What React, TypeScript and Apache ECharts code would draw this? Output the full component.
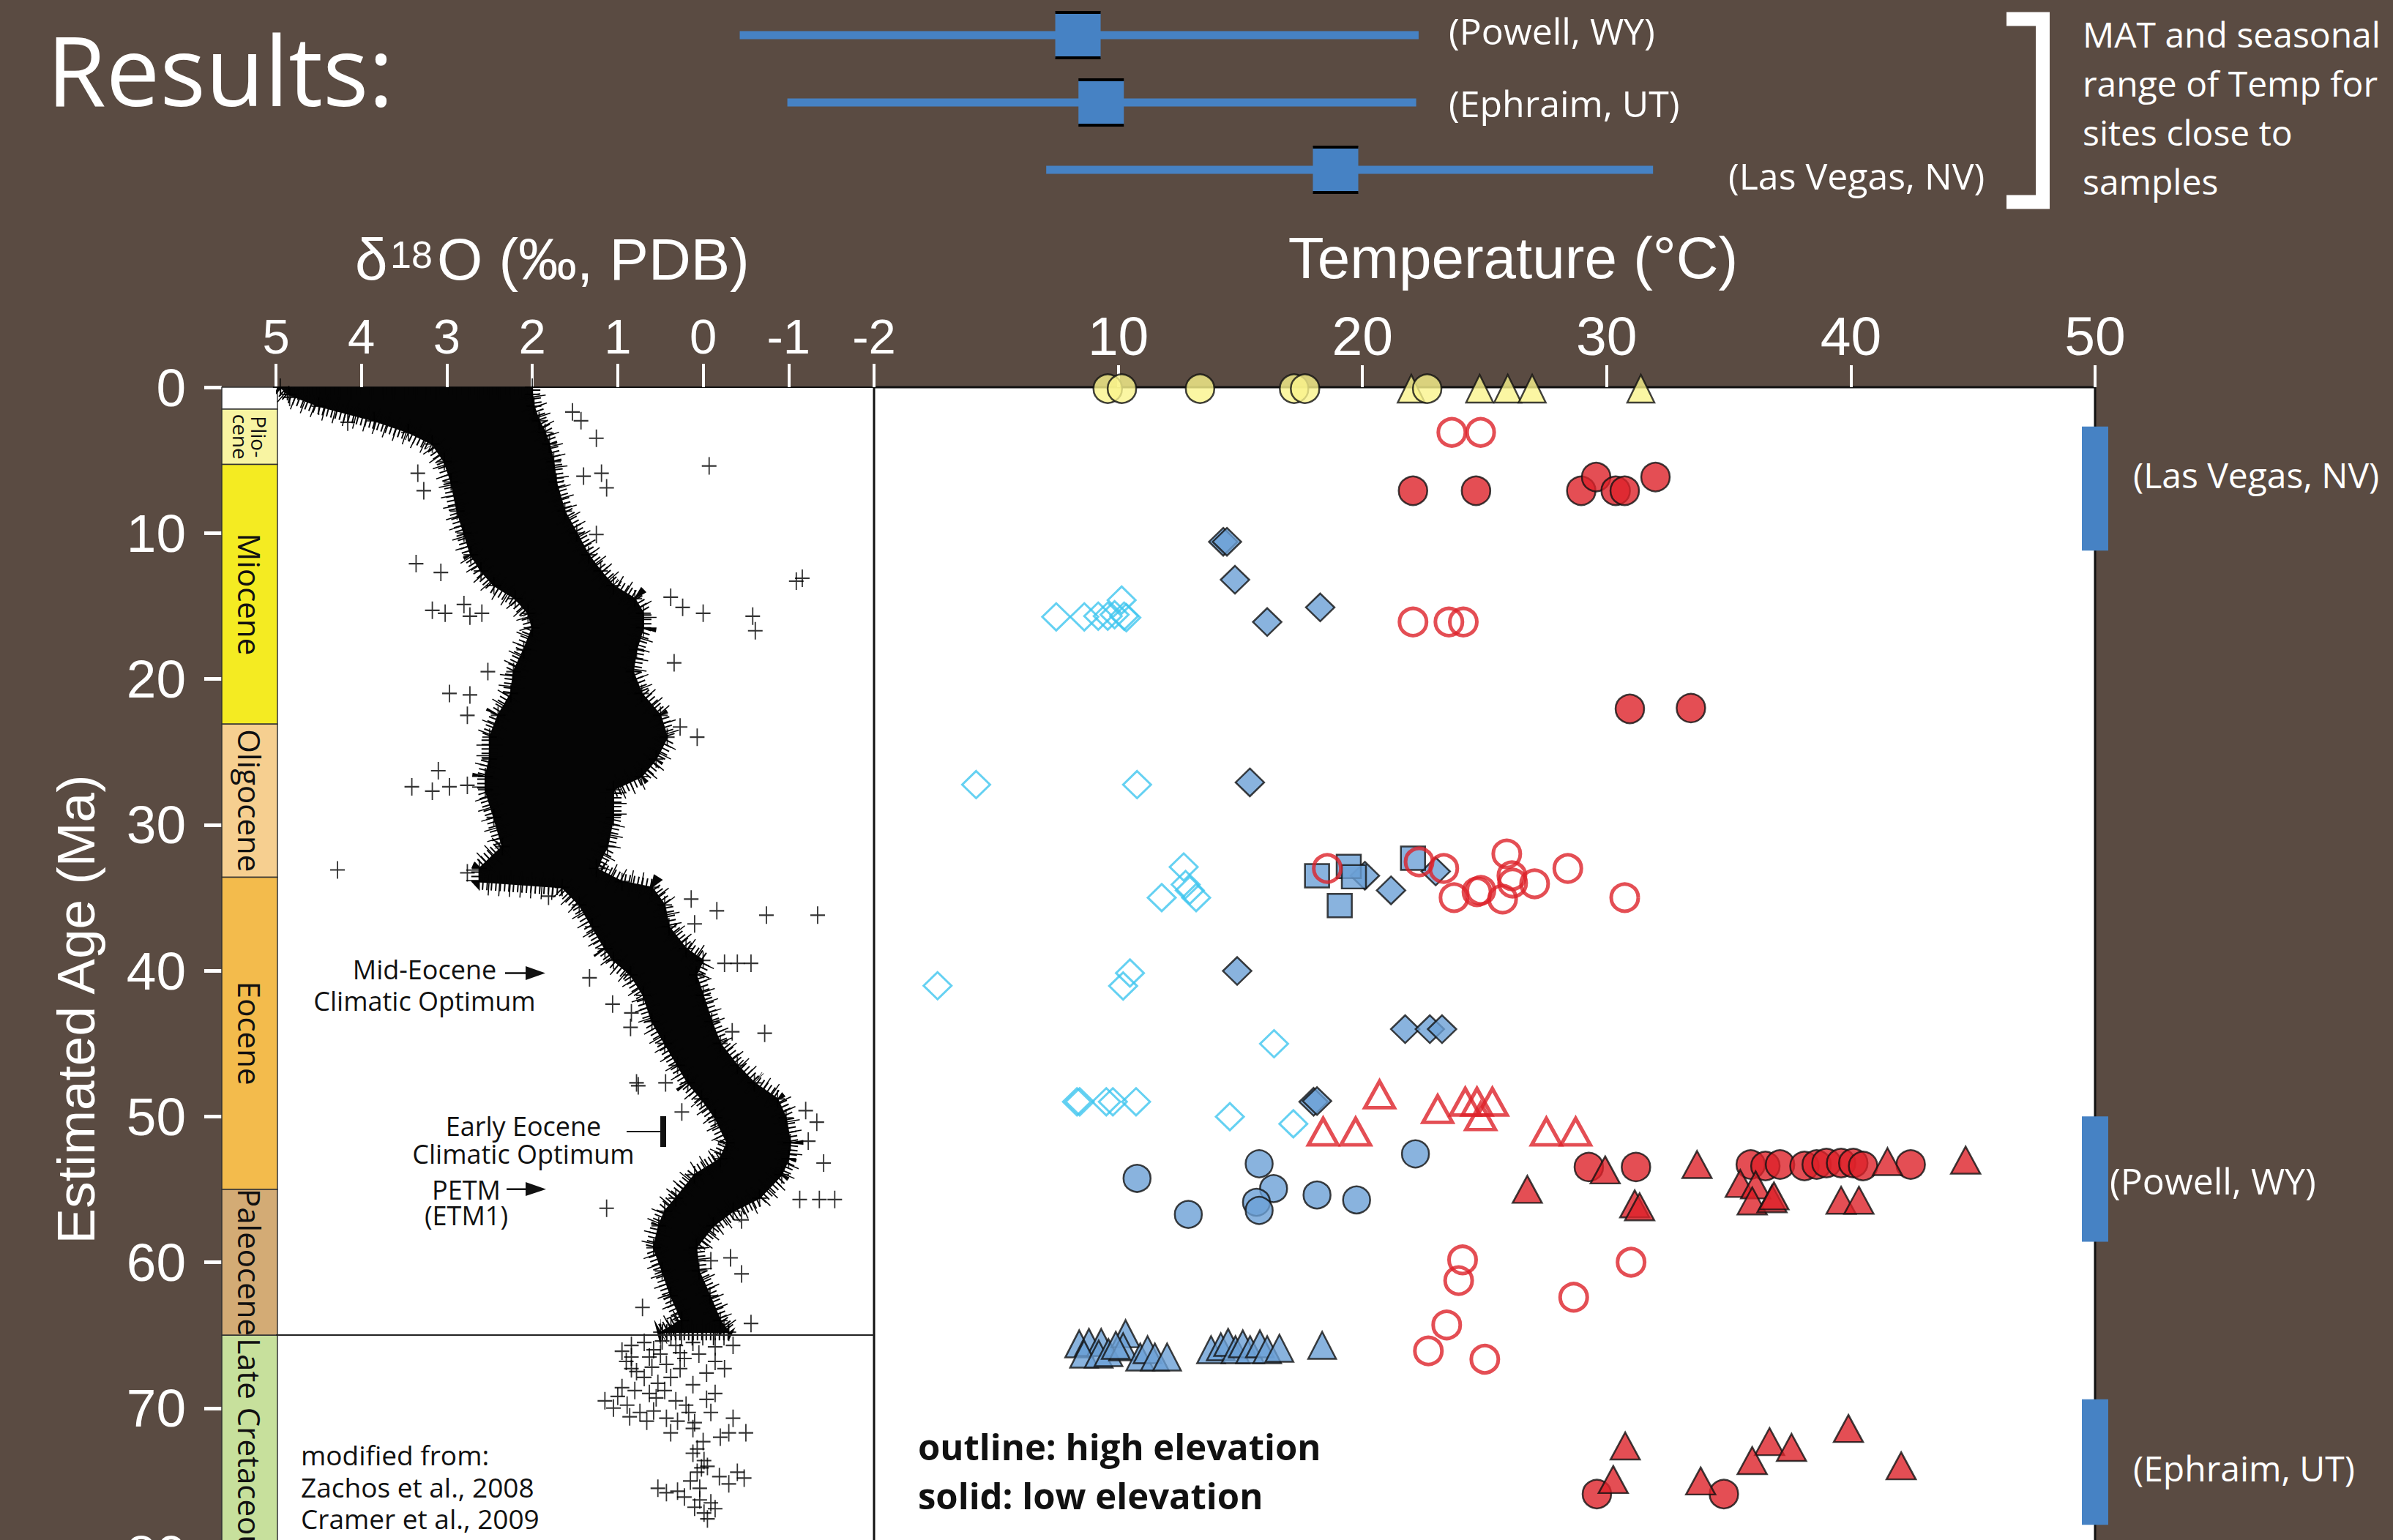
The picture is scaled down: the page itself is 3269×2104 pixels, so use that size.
import React, { useEffect, useRef } from "react";
import * as echarts from "echarts";

// ---------------- data ----------------
const AGE_MIN = 0;
const AGE_MAX = 80;
const D18O_MIN = -2;
const D18O_MAX = 5;
const TEMP_MIN = 0;
const TEMP_MAX = 50;
const TEMP_TICKS = [10, 20, 30, 40, 50];

const EPOCH_NAMES = ["", "Plio-\ncene", "Miocene", "Oligocene", "Eocene", "Paleocene", "Late Cretaceous"];
const EPOCH_START = [0, 1.5, 5.3, 23.1, 33.6, 55.0, 65.0];
const EPOCH_END = [1.5, 5.3, 23.1, 33.6, 55.0, 65.0, 80];
const KPG_BOUNDARY = 65.0;

// dense benthic d18O cloud (Zachos/Cramer), edges
const BAND_AGE = [0, 0.5, 1.3, 2.3, 3.1, 3.9, 5.1, 6.5, 8.5, 10.0, 11.5, 12.6, 13.6, 14.5, 15.5, 16.5, 18.0, 19.5, 21.0, 22.5, 24.0, 25.5, 26.7, 27.6, 29.5, 31.5, 33.0, 33.9, 34.3, 35.5, 37.0, 38.5, 39.3, 40.3, 41.7, 43.5, 45.0, 46.5, 47.7, 48.8, 50.1, 51.8, 52.9, 54.0, 55.6, 56.5, 57.5, 59.0, 60.6, 62.3, 64.0, 64.8];
const BAND_LEFT = [4.95, 4.85, 4.5, 3.85, 3.45, 3.17, 3.03, 2.95, 2.88, 2.8, 2.72, 2.6, 2.45, 2.2, 2.05, 2.0, 2.1, 2.22, 2.25, 2.4, 2.5, 2.5, 2.55, 2.55, 2.45, 2.35, 2.62, 2.62, 1.65, 1.45, 1.3, 1.15, 1.05, 0.85, 0.7, 0.6, 0.45, 0.3, 0.18, 0.02, -0.14, -0.28, -0.2, 0.1, 0.32, 0.45, 0.52, 0.58, 0.48, 0.38, 0.25, 0.5];
const BAND_RIGHT = [2.0, 2.0, 1.98, 1.92, 1.85, 1.8, 1.75, 1.72, 1.62, 1.48, 1.34, 1.2, 1.05, 0.8, 0.7, 0.7, 0.78, 0.82, 0.72, 0.5, 0.42, 0.55, 0.72, 1.05, 1.05, 1.12, 1.25, 0.95, 0.6, 0.45, 0.4, 0.2, 0.0, 0.08, 0.0, -0.1, -0.2, -0.4, -0.6, -0.87, -0.97, -1.02, -1.0, -0.92, -0.66, -0.35, -0.12, 0.08, 0.05, -0.08, -0.2, -0.3];

// scattered d18O measurements [d18O, age]
const D18O_OUTLIERS = [[4.84, 0.7], [4.16, 2.4], [1.53, 1.7], [1.43, 2.3], [1.25, 3.5], [-0.07, 5.4], [1.19, 5.9], [1.13, 6.9], [1.4, 6.1], [3.34, 5.9], [3.27, 7.1], [1.25, 10.1], [3.36, 12.1], [3.07, 12.7], [-1.16, 13.1], [-1.09, 13.3], [-0.58, 15.7], [-0.61, 16.7], [0.0, 15.5], [0.24, 15.1], [0.38, 14.4], [3.17, 15.3], [3.02, 15.5], [2.73, 15.7], [2.59, 15.5], [2.8, 14.9], [0.34, 18.9], [2.52, 19.5], [2.97, 21.0], [2.73, 21.1], [2.76, 22.5], [0.27, 23.3], [0.07, 24.0], [3.41, 27.4], [3.17, 27.7], [2.97, 27.4], [3.1, 26.3], [2.76, 27.3], [4.28, 33.1], [2.76, 33.3], [1.81, 34.9], [0.14, 35.1], [-0.16, 35.9], [-0.74, 36.2], [-1.34, 36.2], [0.1, 36.8], [1.33, 40.5], [1.06, 42.3], [0.84, 42.9], [0.85, 43.9], [-0.72, 44.3], [-0.34, 44.2], [0.78, 47.7], [0.44, 47.7], [0.76, 47.9], [0.25, 49.7], [-1.2, 49.6], [-1.33, 50.4], [-1.41, 53.2], [-1.23, 51.7], [1.13, 56.3], [-0.45, 57.1], [-0.09, 59.9], [-0.32, 59.7], [-0.45, 60.8], [0.71, 63.1], [-0.56, 64.2], [-1.54, 55.7], [-1.36, 55.7], [-1.13, 55.7], [-0.56, 39.5], [-0.4, 39.5], [-0.25, 39.5]];
const D18O_CRETACEOUS = [[0.95, 66.1], [0.84, 65.7], [0.69, 65.5], [0.48, 65.4], [0.32, 65.7], [0.12, 65.5], [-0.14, 65.8], [-0.35, 65.7], [0.63, 66.5], [0.43, 67.0], [0.22, 66.6], [-0.04, 67.6], [-0.25, 67.3], [0.84, 67.3], [0.69, 67.9], [0.53, 68.3], [0.38, 67.9], [0.12, 68.4], [-0.14, 69.0], [-0.04, 69.4], [1.15, 69.5], [1.05, 70.0], [0.89, 69.8], [0.74, 70.3], [0.58, 70.2], [0.43, 70.7], [0.63, 69.0], [0.32, 69.5], [0.17, 70.3], [-0.09, 70.3], [-0.35, 70.7], [-0.5, 71.7], [-0.3, 71.7], [0.38, 71.7], [0.12, 71.4], [0.07, 72.8], [-0.01, 73.6], [0.07, 74.4], [-0.19, 74.7], [-0.4, 74.4], [-0.48, 74.8], [0.53, 75.5], [0.43, 75.8], [0.22, 76.1], [0.04, 76.3], [-0.09, 76.5], [-0.01, 77.2], [-0.14, 76.9], [0.04, 75.5], [0.02, 74.1], [0.84, 66.5], [0.58, 66.0], [0.27, 66.2], [-0.14, 66.8], [0.9, 66.8], [0.78, 67.5], [0.6, 67.2], [0.5, 66.3], [0.27, 67.3], [0.05, 66.3], [0.95, 68.6], [0.8, 68.8], [0.55, 69.3], [0.45, 68.8], [0.2, 69.8], [1.0, 69.2], [0.86, 70.6], [0.66, 70.9], [0.3, 70.9], [0.1, 71.0], [-0.2, 72.0], [0.0, 72.3], [0.12, 73.1], [-0.05, 74.0], [0.15, 75.0], [-0.3, 75.2], [0.1, 76.8], [-0.05, 77.6], [0.3, 75.7]];

// clumped-isotope temperatures [T (°C), age (Ma)]
const MODERN_CIRCLES = [[9.57, 0.1], [10.15, 0.1], [13.35, 0.1], [17.2, 0.1], [17.65, 0.1], [22.65, 0.1]];
const MODERN_TRIANGLES = [[22.0, 0.1], [24.8, 0.1], [25.95, 0.1], [26.95, 0.1], [31.4, 0.1]];
const RED_OPEN_CIRCLES = [[23.66, 3.1], [24.84, 3.1], [22.07, 16.1], [23.54, 16.1], [24.13, 16.1], [18.56, 33.0], [22.32, 32.55], [23.33, 33.0], [25.91, 32.0], [23.75, 35.0], [24.69, 34.6], [24.85, 34.5], [25.74, 35.1], [26.12, 33.5], [26.15, 34.0], [27.05, 34.05], [28.41, 33.0], [30.74, 35.0], [24.1, 59.84], [23.94, 61.26], [31.0, 60.0], [28.65, 62.4], [23.45, 64.3], [22.7, 66.08], [25.01, 66.65]];
const RED_FILLED_CIRCLES = [[22.07, 7.1], [24.65, 7.1], [28.96, 7.1], [29.57, 6.16], [30.37, 7.1], [30.74, 7.1], [32.0, 6.16], [30.95, 22.06], [33.45, 22.0], [29.27, 53.47], [31.2, 53.47], [35.9, 53.3], [36.5, 53.4], [37.1, 53.3], [38.1, 53.4], [38.6, 53.3], [39.0, 53.2], [39.6, 53.2], [40.1, 53.2], [40.5, 53.4], [42.45, 53.3], [29.6, 75.9], [34.8, 75.9]];
const RED_FILLED_TRIANGLES = [[29.94, 53.67], [33.7, 53.3], [35.47, 54.6], [36.1, 54.7], [41.5, 53.1], [44.7, 53.0], [26.75, 55.0], [31.15, 56.0], [31.35, 56.2], [35.96, 55.8], [36.77, 55.65], [36.85, 55.45], [39.6, 55.75], [40.33, 55.75], [30.76, 72.6], [36.67, 72.3], [37.57, 72.7], [39.9, 71.4], [35.96, 73.6], [42.06, 73.96], [30.27, 74.9], [33.85, 75.0]];
const RED_OPEN_TRIANGLES = [[20.7, 48.5], [18.39, 51.05], [19.72, 51.05], [23.08, 49.5], [24.21, 49.0], [24.69, 49.0], [25.32, 49.0], [24.84, 50.0], [27.53, 51.05], [28.73, 51.05]];
const BLUE_DIAMONDS = [[14.3, 10.6], [14.45, 10.6], [14.78, 13.2], [16.1, 16.1], [18.27, 15.1], [15.39, 27.1], [20.1, 33.5], [21.17, 34.5], [23.0, 33.2], [14.87, 40.03], [21.75, 44.02], [22.76, 44.02], [23.26, 44.02], [18.0, 49.0], [18.14, 48.95]];
const CYAN_OPEN_DIAMONDS = [[7.46, 15.75], [8.61, 15.75], [9.18, 15.7], [9.57, 15.7], [9.85, 15.6], [10.14, 14.6], [10.24, 15.7], [10.33, 15.8], [4.18, 27.25], [10.77, 27.25], [12.68, 32.9], [12.76, 34.1], [12.93, 34.5], [11.78, 35.0], [13.19, 35.0], [2.6, 41.04], [10.48, 40.17], [10.2, 41.06], [16.38, 45.02], [8.31, 49.0], [8.42, 49.0], [9.51, 49.0], [9.78, 49.0], [10.73, 49.0], [14.57, 50.02], [17.17, 50.51]];
const BLUE_SQUARES = [[18.14, 33.5], [19.44, 32.86], [19.65, 33.57], [19.07, 35.55], [22.07, 32.3]];
const BLUE_CIRCLES = [[10.77, 54.25], [12.87, 56.72], [15.77, 53.25], [16.36, 54.95], [15.66, 55.89], [15.77, 56.45], [18.14, 55.39], [19.76, 55.73], [22.17, 52.57]];
const BLUE_TRIANGLES = [[8.4, 65.6], [8.8, 65.5], [9.3, 65.5], [8.6, 66.3], [9.2, 66.3], [9.6, 66.2], [10.3, 64.9], [10.2, 65.8], [10.9, 66.5], [11.2, 66.0], [11.5, 66.5], [12.0, 66.5], [9.9, 65.7], [13.8, 66.0], [14.2, 65.8], [14.5, 65.5], [14.8, 66.0], [15.1, 65.6], [15.4, 66.0], [15.8, 65.6], [16.1, 66.0], [16.6, 65.9], [18.35, 65.7]];

// sample age ranges of the three sites (right-hand bars)
const SITE_BAR_START = [2.7, 50.0, 69.4];
const SITE_BAR_END = [11.2, 58.6, 78.0];

// modern MAT and seasonal range for nearby sites
const MAT_SITES = ["(Powell, WY)", "(Ephraim, UT)", "(Las Vegas, NV)"];
const MAT_LOW = [-5.5, -3.55, 7.05];
const MAT_MEAN = [8.35, 9.3, 18.9];
const MAT_HIGH = [22.3, 22.2, 31.9];

// ---------------- styles ----------------
const W = 3269;
const H = 2104;
const BG = "#5a4b42";
const BLUE_BAR = "#4682c4";
const RED = "#dd2229";
const BLUE_FILL = "#6ca0d6";
const CYAN = "#3ec6ef";
const YELLOW = "#faf48c";
const EPOCH_COLORS = ["#ffffff", "#f8f4a2", "#f4eb22", "#f6cf90", "#f3bb4c", "#d3ab75", "#c7e09c"];
const ARIAL = '"Liberation Sans", Arial, Helvetica, sans-serif';
const MYRIAD = '"Open Sans", "Noto Sans", sans-serif';
const PLUS = "path://M10 0V24M0 12H20";

const AGE_TOP = 529;
const AGE_HEIGHT = 1594;

function txt(text: string, x: number, y: number, fontSize: number, o: any = {}) {
  return {
    type: "text",
    x,
    y,
    z: 100,
    silent: true,
    rotation: o.rotation || 0,
    style: {
      text,
      fill: o.fill || "#ffffff",
      fontSize,
      fontFamily: o.family || MYRIAD,
      fontWeight: o.weight || "normal",
      align: o.align || "left",
      textAlign: o.align || "left",
      verticalAlign: "middle",
      textVerticalAlign: "middle",
      lineHeight: o.lineHeight,
    },
  };
}

function buildOption() {
  const filled = (color: string) => ({ color, borderColor: "#111", borderWidth: 2.5 });
  const open = (color: string, w: number) => ({ color: "rgba(0,0,0,0)", borderColor: color, borderWidth: w });
  const sc = (name: string, data: number[][], symbol: string, size: any, itemStyle: any, z = 3) => ({
    type: "scatter",
    name,
    xAxisIndex: 2,
    yAxisIndex: 2,
    data,
    symbol,
    symbolSize: size,
    itemStyle,
    clip: false,
    silent: true,
    z,
  });

  const ageAxisHidden = (gi: number) => ({
    gridIndex: gi,
    type: "value",
    min: AGE_MIN,
    max: AGE_MAX,
    inverse: true,
    show: false,
  });

  const bandEdge = [
    ...BAND_AGE.map((a, i) => [BAND_LEFT[i], a]),
    ...BAND_AGE.map((a, i) => [BAND_RIGHT[i], a]),
  ];

  return {
    animation: false,
    backgroundColor: BG,
    grid: [
      { left: 303, width: 76, top: AGE_TOP, height: AGE_HEIGHT, show: false, outerBoundsMode: "none" },
      { left: 377, width: 817, top: AGE_TOP, height: AGE_HEIGHT, show: true, backgroundColor: "#ffffff", borderColor: "#111", borderWidth: 2, outerBoundsMode: "none" },
      { left: 1194, width: 1668, top: AGE_TOP, height: AGE_HEIGHT, show: true, backgroundColor: "#ffffff", borderColor: "#111", borderWidth: 3, outerBoundsMode: "none" },
      { left: 1194 - 1668 / 5, width: (1668 * 70) / 50, top: 2, height: 276, show: false, outerBoundsMode: "none" },
    ],
    xAxis: [
      { gridIndex: 0, type: "value", min: 0, max: 1, show: false },
      {
        gridIndex: 1,
        type: "value",
        position: "top",
        min: D18O_MIN,
        max: D18O_MAX,
        interval: 1,
        inverse: true,
        axisLine: { show: false },
        axisTick: { show: true, length: 32, lineStyle: { color: "#fff", width: 4 } },
        axisLabel: { color: "#fff", fontSize: 67, fontFamily: ARIAL, margin: 36 },
        splitLine: { show: false },
      },
      {
        gridIndex: 2,
        type: "value",
        position: "top",
        min: TEMP_MIN,
        max: TEMP_MAX,
        interval: 10,
        axisLine: { show: false },
        axisTick: { show: true, length: 30, lineStyle: { color: "#fff", width: 4 }, customValues: TEMP_TICKS },
        axisLabel: { color: "#fff", fontSize: 75, fontFamily: ARIAL, margin: 33, customValues: TEMP_TICKS },
        splitLine: { show: false },
      },
      { gridIndex: 3, type: "value", min: -10, max: 60, show: false },
    ],
    yAxis: [
      {
        gridIndex: 0,
        type: "value",
        min: AGE_MIN,
        max: AGE_MAX,
        interval: 10,
        inverse: true,
        position: "left",
        axisLine: { show: false },
        axisTick: { show: true, length: 24, lineStyle: { color: "#fff", width: 5 } },
        axisLabel: { color: "#fff", fontSize: 73, fontFamily: ARIAL, margin: 49 },
        splitLine: { show: false },
      },
      ageAxisHidden(1),
      ageAxisHidden(2),
      { gridIndex: 3, type: "category", data: MAT_SITES, inverse: true, show: false },
    ],
    series: [
      // geologic epochs column
      {
        type: "custom",
        xAxisIndex: 0,
        yAxisIndex: 0,
        silent: true,
        clip: false,
        z: 2,
        data: EPOCH_START.map((s, i) => [s, EPOCH_END[i]]),
        renderItem: (params: any, api: any) => {
          const i = params.dataIndex;
          const p0 = api.coord([0, api.value(0)]);
          const p1 = api.coord([1, api.value(1)]);
          const isLast = i === EPOCH_NAMES.length - 1;
          const isSmall = EPOCH_NAMES[i].indexOf("\n") >= 0;
          const children: any[] = [
            {
              type: "rect",
              shape: { x: p0[0], y: p0[1], width: p1[0] - p0[0], height: p1[1] - p0[1] },
              style: { fill: EPOCH_COLORS[i], stroke: "#333", lineWidth: 1.5 },
            },
          ];
          if (EPOCH_NAMES[i]) {
            children.push({
              type: "text",
              x: (p0[0] + p1[0]) / 2,
              y: isLast ? p0[1] + 4 : (p0[1] + p1[1]) / 2,
              rotation: -Math.PI / 2,
              style: {
                text: EPOCH_NAMES[i],
                fill: "#111",
                fontSize: isSmall ? 28 : 42,
                lineHeight: isSmall ? 25 : 48,
                fontFamily: MYRIAD,
                align: isLast ? "left" : "center",
                verticalAlign: "middle",
              },
            });
          }
          return { type: "group", children };
        },
      },
      // dense d18O cloud
      {
        type: "custom",
        xAxisIndex: 1,
        yAxisIndex: 1,
        silent: true,
        clip: true,
        z: 2,
        data: BAND_AGE.map((a, i) => [BAND_LEFT[i], a, BAND_RIGHT[i]]),
        renderItem: (params: any, api: any) => {
          if (params.dataIndex !== 0) return null;
          const pts: number[][] = [];
          for (let i = 0; i < BAND_AGE.length; i++) pts.push(api.coord([BAND_LEFT[i], BAND_AGE[i]]));
          for (let i = BAND_AGE.length - 1; i >= 0; i--) pts.push(api.coord([BAND_RIGHT[i], BAND_AGE[i]]));
          return {
            type: "group",
            children: [
              { type: "polygon", shape: { points: pts }, style: { fill: "#050505", stroke: "#050505", lineWidth: 2, lineJoin: "round" } },
              { type: "polygon", shape: { points: pts }, style: { fill: null, stroke: "#050505", lineWidth: 22, lineDash: [2, 4], lineJoin: "bevel" } },
              { type: "polygon", shape: { points: pts }, style: { fill: null, stroke: "#050505", lineWidth: 36, lineDash: [1.5, 13], lineDashOffset: 5, lineJoin: "bevel" } },
            ],
          };
        },
      },
      {
        type: "scatter",
        xAxisIndex: 1,
        yAxisIndex: 1,
        silent: true,
        data: bandEdge,
        symbol: PLUS,
        symbolSize: [20, 24],
        itemStyle: { color: "rgba(0,0,0,0)", borderColor: "#000", borderWidth: 2 },
        z: 3,
      },
      {
        type: "scatter",
        xAxisIndex: 1,
        yAxisIndex: 1,
        silent: true,
        data: [...D18O_OUTLIERS, ...D18O_CRETACEOUS],
        symbol: PLUS,
        symbolSize: [20, 24],
        itemStyle: { color: "rgba(0,0,0,0)", borderColor: "#000", borderWidth: 2 },
        z: 3,
        markLine: {
          silent: true,
          symbol: "none",
          label: { show: false },
          lineStyle: { color: "#222", width: 2, type: "solid" },
          data: [{ yAxis: KPG_BOUNDARY }],
        },
      },
      // temperatures
      sc("cyan open diamonds", CYAN_OPEN_DIAMONDS, "diamond", [38, 37], open(CYAN, 3)),
      sc("blue diamonds", BLUE_DIAMONDS, "diamond", [39, 38], filled(BLUE_FILL)),
      sc("blue squares", BLUE_SQUARES, "rect", [33, 32], filled(BLUE_FILL)),
      sc("blue circles", BLUE_CIRCLES, "circle", 37, filled(BLUE_FILL)),
      sc("blue triangles", BLUE_TRIANGLES, "triangle", [38, 37], filled(BLUE_FILL)),
      sc("red open circles", RED_OPEN_CIRCLES, "circle", 37, open(RED, 5), 4),
      sc("red open triangles", RED_OPEN_TRIANGLES, "triangle", [40, 36], open(RED, 5), 4),
      sc("red circles", RED_FILLED_CIRCLES, "circle", 39, filled(RED), 4),
      sc("red triangles", RED_FILLED_TRIANGLES, "triangle", [40, 37], filled(RED), 5),
      sc("modern triangles", MODERN_TRIANGLES, "triangle", [37, 38], filled(YELLOW), 5),
      sc("modern circles", MODERN_CIRCLES, "circle", 39, filled(YELLOW), 6),
      // sample age bars at right edge
      {
        type: "custom",
        xAxisIndex: 2,
        yAxisIndex: 2,
        silent: true,
        clip: false,
        z: 6,
        data: SITE_BAR_START.map((s, i) => [s, SITE_BAR_END[i]]),
        renderItem: (params: any, api: any) => {
          const a = api.coord([TEMP_MAX, api.value(0)]);
          const b = api.coord([TEMP_MAX, api.value(1)]);
          return { type: "rect", shape: { x: a[0] - 18, y: a[1], width: 36, height: b[1] - a[1] }, style: { fill: BLUE_BAR } };
        },
      },
      // MAT & seasonal range
      {
        type: "custom",
        xAxisIndex: 3,
        yAxisIndex: 3,
        silent: true,
        clip: false,
        z: 6,
        data: MAT_SITES.map((s, i) => [MAT_LOW[i], i, MAT_MEAN[i], MAT_HIGH[i]]),
        renderItem: (params: any, api: any) => {
          const lo = api.coord([api.value(0), api.value(1)]);
          const mid = api.coord([api.value(2), api.value(1)]);
          const hi = api.coord([api.value(3), api.value(1)]);
          const y = mid[1];
          const s = 31;
          return {
            type: "group",
            children: [
              { type: "rect", shape: { x: lo[0], y: y - 5.5, width: hi[0] - lo[0], height: 11 }, style: { fill: BLUE_BAR } },
              { type: "rect", shape: { x: mid[0] - s, y: y - s, width: 2 * s, height: 2 * s }, style: { fill: BLUE_BAR } },
              { type: "line", shape: { x1: mid[0] - s, y1: y - s, x2: mid[0] + s, y2: y - s }, style: { stroke: "#000", lineWidth: 4 } },
              { type: "line", shape: { x1: mid[0] - s, y1: y + s, x2: mid[0] + s, y2: y + s }, style: { stroke: "#000", lineWidth: 4 } },
            ],
          };
        },
      },
    ],
    graphic: [
      txt("Results:", 64, 94, 131),
      txt("MAT and seasonal\nrange of Temp for\nsites close to\nsamples", 2845, 147, 48, { lineHeight: 67 }),
      {
        type: "polyline",
        z: 100,
        silent: true,
        shape: { points: [[2741, 26], [2790.5, 26], [2790.5, 276], [2741, 276]] },
        style: { stroke: "#fff", lineWidth: 19, fill: null, lineJoin: "miter", lineCap: "butt" },
      },
      txt(MAT_SITES[0], 1979, 42, 50),
      txt(MAT_SITES[1], 1979, 141, 50),
      txt(MAT_SITES[2], 2361, 240, 50),
      txt("(Las Vegas, NV)", 2914, 648, 48),
      txt("(Powell, WY)", 2882, 1613, 50),
      txt("(Ephraim, UT)", 2914, 2005, 48),
      {
        type: "text",
        x: 485,
        y: 354,
        z: 100,
        silent: true,
        style: { text: "δ", fill: "#fff", fontSize: 80, fontFamily: ARIAL, align: "left", verticalAlign: "middle" },
      },
      {
        type: "text",
        x: 533,
        y: 348,
        z: 100,
        silent: true,
        style: { text: "18", fill: "#fff", fontSize: 52, fontFamily: ARIAL, align: "left", verticalAlign: "middle" },
      },
      {
        type: "text",
        x: 597,
        y: 354,
        z: 100,
        silent: true,
        style: { text: "O (‰, PDB)", fill: "#fff", fontSize: 80, fontFamily: ARIAL, align: "left", verticalAlign: "middle" },
      },
      txt("Temperature (°C)", 2067, 352, 80, { family: ARIAL, align: "center" }),
      txt("Estimated Age (Ma)", 103, 1379, 73, { family: ARIAL, align: "center", rotation: Math.PI / 2 }),
      txt("Mid-Eocene\nClimatic Optimum", 580, 1346, 36, { fill: "#111", align: "center", lineHeight: 42.5 }),
      { type: "line", z: 100, silent: true, shape: { x1: 690, y1: 1329.5, x2: 722, y2: 1329.5 }, style: { stroke: "#111", lineWidth: 2.5 } },
      { type: "polygon", z: 100, silent: true, shape: { points: [[718, 1320], [745, 1329.5], [718, 1339]] }, style: { fill: "#111" } },
      txt("Early Eocene\nClimatic Optimum", 715, 1557, 36, { fill: "#111", align: "center", lineHeight: 38 }),
      { type: "line", z: 100, silent: true, shape: { x1: 856, y1: 1546, x2: 903, y2: 1546 }, style: { stroke: "#111", lineWidth: 2 } },
      { type: "rect", z: 100, silent: true, shape: { x: 902, y: 1525, width: 8, height: 42 }, style: { fill: "#111" } },
      txt("PETM\n(ETM1)", 637, 1643, 36, { fill: "#111", align: "center", lineHeight: 35.5 }),
      { type: "line", z: 100, silent: true, shape: { x1: 692, y1: 1624.7, x2: 722, y2: 1624.7 }, style: { stroke: "#111", lineWidth: 2.5 } },
      { type: "polygon", z: 100, silent: true, shape: { points: [[718, 1615], [746, 1624.7], [718, 1634]] }, style: { fill: "#111" } },
      txt("modified from:\nZachos et al., 2008\nCramer et al., 2009", 411, 2031, 37, { fill: "#111", lineHeight: 43.6 }),
      txt("outline: high elevation\nsolid: low elevation", 1254, 2009, 49, { fill: "#111", weight: "bold", lineHeight: 67 }),
    ],
  };
}

export default function App() {
  const ref = useRef<HTMLDivElement>(null);
  useEffect(() => {
    if (!ref.current) return;
    const chart = echarts.init(ref.current, null, { renderer: "svg" });
    chart.setOption(buildOption() as any);
    return () => chart.dispose();
  }, []);
  return (
    <div style={{ position: "fixed", left: 0, top: 0, width: W, height: H, overflow: "hidden", background: BG }}>
      <div ref={ref} style={{ width: W, height: H }} />
    </div>
  );
}
